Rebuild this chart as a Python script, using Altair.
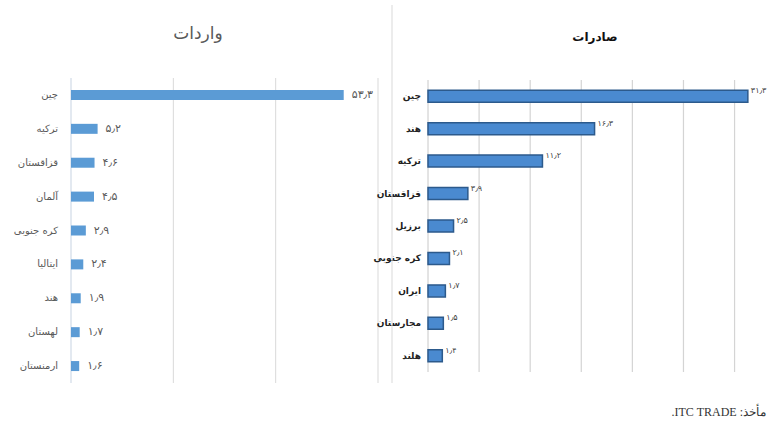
import altair as alt
import pandas as pd

# --- data -------------------------------------------------------------
imp_countries = ["چین", "ترکیه", "قزاقستان", "آلمان", "کره جنوبی", "ایتالیا", "هند", "لهستان", "ارمنستان"]
imp_values = [53.3, 5.2, 4.6, 4.5, 2.9, 2.4, 1.9, 1.7, 1.6]

exp_countries = ["چین", "هند", "ترکیه", "قزاقستان", "برزیل", "کره جنوبی", "ایران", "مجارستان", "هلند"]
exp_values = [31.3, 16.3, 11.2, 3.9, 2.5, 2.1, 1.7, 1.5, 1.4]

imp_ticks = [20, 40, 60]
exp_ticks = [5, 10, 15, 20, 25, 30]

imp_title = "واردات"
exp_title = "صادرات"
source_note = "\u202bمأخذ: ITC TRADE.\u202c"

FA_DIGITS = str.maketrans("0123456789.", "۰۱۲۳۴۵۶۷۸۹٫")


def fa(v):
    return f"{v:.1f}".translate(FA_DIGITS)


imp_df = pd.DataFrame({"country": imp_countries, "value": imp_values,
                       "label": [fa(v) for v in imp_values]})
exp_df = pd.DataFrame({"country": exp_countries, "value": exp_values,
                       "label": [fa(v) for v in exp_values]})

FONT = "DejaVu Sans"

# --- scales: each panel gets its own pixel range inside one canvas ----
imp_x = alt.Scale(domain=[0, 60], range=[71, 378], nice=False, zero=True)
imp_y = alt.Scale(domain=imp_countries, range=[78, 383], paddingInner=0.3, paddingOuter=0.15)
exp_x = alt.Scale(domain=[0, 32], range=[428, 755], nice=False, zero=True)
exp_y = alt.Scale(domain=exp_countries, range=[80, 372], paddingInner=0.3, paddingOuter=0.15)

# --- imports panel ----------------------------------------------------
imp_grid = alt.Chart(pd.DataFrame({"tick": imp_ticks})).mark_rule(
    color="#d9d9d9", strokeWidth=1
).encode(x=alt.X("tick:Q", scale=imp_x, axis=None), y=alt.value(78), y2=alt.value(383))

imp_axis = alt.Chart(pd.DataFrame({"tick": [0]})).mark_rule(
    color="#c7d3e2", strokeWidth=1
).encode(x=alt.X("tick:Q", scale=imp_x, axis=None), y=alt.value(78), y2=alt.value(383))

imp_bars = alt.Chart(imp_df).mark_bar(color="#5b9bd5", size=10).encode(
    x=alt.X("value:Q", scale=imp_x, axis=None),
    y=alt.Y("country:N", scale=imp_y, axis=None, sort=None),
)

imp_vals = alt.Chart(imp_df).mark_text(
    align="left", baseline="middle", dx=8, font=FONT, fontSize=11, color="#595959"
).encode(
    x=alt.X("value:Q", scale=imp_x, axis=None),
    y=alt.Y("country:N", scale=imp_y, axis=None, sort=None),
    text="label:N",
)

imp_names = alt.Chart(imp_df).mark_text(
    align="right", baseline="middle", font=FONT, fontSize=10, color="#595959"
).encode(
    x=alt.value(58),
    y=alt.Y("country:N", scale=imp_y, axis=None, sort=None),
    text="country:N",
)

imp_head = alt.Chart(pd.DataFrame({"t": [imp_title]})).mark_text(
    align="center", baseline="middle", font=FONT, fontSize=17, color="#595959"
).encode(x=alt.value(198), y=alt.value(34), text="t:N")

# --- exports panel ----------------------------------------------------
exp_grid = alt.Chart(pd.DataFrame({"tick": exp_ticks})).mark_rule(
    color="#d4d4d4", strokeWidth=1.2
).encode(x=alt.X("tick:Q", scale=exp_x, axis=None), y=alt.value(80), y2=alt.value(372))

exp_axis = alt.Chart(pd.DataFrame({"tick": [0]})).mark_rule(
    color="#c8c8c8", strokeWidth=1
).encode(x=alt.X("tick:Q", scale=exp_x, axis=None), y=alt.value(80), y2=alt.value(372))

exp_bars = alt.Chart(exp_df).mark_bar(
    color="#4a8ad0", stroke="#2c5a8c", strokeWidth=1.5, size=12
).encode(
    x=alt.X("value:Q", scale=exp_x, axis=None),
    y=alt.Y("country:N", scale=exp_y, axis=None, sort=None),
)

exp_vals = alt.Chart(exp_df).mark_text(
    align="left", baseline="middle", dx=3, dy=-5, font=FONT, fontSize=8, color="#404040"
).encode(
    x=alt.X("value:Q", scale=exp_x, axis=None),
    y=alt.Y("country:N", scale=exp_y, axis=None, sort=None),
    text="label:N",
)

exp_names = alt.Chart(exp_df).mark_text(
    align="right", baseline="middle", font=FONT, fontSize=9, fontWeight="bold", color="#222222"
).encode(
    x=alt.value(421),
    y=alt.Y("country:N", scale=exp_y, axis=None, sort=None),
    text="country:N",
)

exp_head = alt.Chart(pd.DataFrame({"t": [exp_title]})).mark_text(
    align="center", baseline="middle", font=FONT, fontSize=12, fontWeight="bold", color="#111111"
).encode(x=alt.value(595), y=alt.value(37), text="t:N")

# --- frame pieces -----------------------------------------------------
divider = alt.Chart(pd.DataFrame({"d": [0]})).mark_rule(color="#d9d9d9", strokeWidth=1).encode(
    x=alt.value(392), y=alt.value(5), y2=alt.value(383)
)

note = alt.Chart(pd.DataFrame({"t": [source_note]})).mark_text(
    align="right", baseline="middle", font="Liberation Serif", fontSize=12, color="#333333"
).encode(x=alt.value(766), y=alt.value(412), text="t:N")

chart = alt.layer(
    imp_grid, imp_axis, imp_bars, imp_vals, imp_names, imp_head,
    exp_grid, exp_axis, exp_bars, exp_vals, exp_names, exp_head,
    divider, note,
).resolve_scale(
    x="independent", y="independent"
).properties(
    width=770, height=428, padding=0,
    autosize=alt.AutoSizeParams(type="none"),
    background="white",
).configure_view(stroke=None)

chart.save("out.html", embed_options={"renderer": "svg", "actions": False})
